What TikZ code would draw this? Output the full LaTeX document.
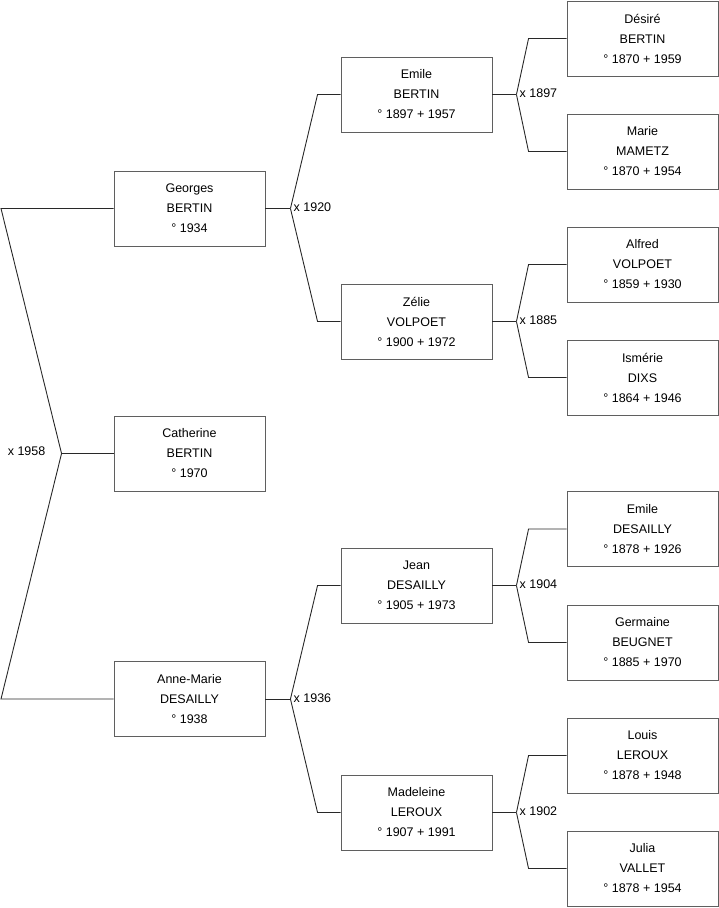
\documentclass[tikz,border=0pt]{standalone}
\usepackage{fontspec}
\setmainfont{Liberation Sans}
\usetikzlibrary{positioning,calc}
\definecolor{boxgray}{RGB}{95,95,95}
\definecolor{linkgray}{RGB}{40,40,40}

\tikzset{
  person/.style={draw=boxgray,line width=.9pt,minimum width=151pt,minimum height=75pt,
    inner sep=0pt,align=center,font=\fontsize{12.5}{20}\selectfont},
  link/.style={draw=linkgray,line width=.9pt},
  marr/.style={inner sep=1pt,font=\fontsize{12.5}{15}\selectfont}
}

\begin{document}
\begin{tikzpicture}[x=1pt,y=-1pt]
\useasboundingbox (0,0) rectangle (719,908);
% children
\node[person] (georges) at (189.5,208.5) {Georges\\BERTIN\\° 1934};
\node[person] (catherine) at (189.5,453.5) {Catherine\\BERTIN\\° 1970};
\node[person] (annemarie) at (189.5,699) {Anne-Marie\\DESAILLY\\° 1938};
% parents
\node[person] (emileb) at (416.5,94.5) {Emile\\BERTIN\\° 1897 + 1957};
\node[person] (zelie) at (416.5,321.5) {Zélie\\VOLPOET\\° 1900 + 1972};
\node[person] (jean) at (416.5,585.5) {Jean\\DESAILLY\\° 1905 + 1973};
\node[person] (madeleine) at (416.5,812.5) {Madeleine\\LEROUX\\° 1907 + 1991};
% grandparents
\node[person] (desire) at (642.5,38.5) {Désiré\\BERTIN\\° 1870 + 1959};
\node[person] (marie) at (642.5,151.5) {Marie\\MAMETZ\\° 1870 + 1954};
\node[person] (alfred) at (642.5,264.5) {Alfred\\VOLPOET\\° 1859 + 1930};
\node[person] (ismerie) at (642.5,377.5) {Ismérie\\DIXS\\° 1864 + 1946};
\node[person] (emiled) at (642.5,529) {Emile\\DESAILLY\\° 1878 + 1926};
\node[person] (germaine) at (642.5,642.5) {Germaine\\BEUGNET\\° 1885 + 1970};
\node[person] (louis) at (642.5,755.5) {Louis\\LEROUX\\° 1878 + 1948};
\node[person] (julia) at (642.5,868.5) {Julia\\VALLET\\° 1878 + 1954};

% siblings bracket
\coordinate (v-sib) at ($(catherine.west)+(-52,0)$);
\coordinate (sib-top) at (1,208.5);
\coordinate (sib-bot) at (1,699);
\draw[link] (georges.west) -- (sib-top) -- (v-sib) -- (sib-bot) -- (annemarie.west);
\draw[link] (v-sib) -- (catherine.west);
\node[marr,anchor=east] (m-sib) at ($(v-sib)+(-15,-2)$) {x 1958};

% couples
\foreach \c/\f/\m/\y/\a/\b in {georges/emileb/zelie/1920/25/23,
  annemarie/jean/madeleine/1936/25/23,
  emileb/desire/marie/1897/24/38,
  zelie/alfred/ismerie/1885/24/38,
  jean/emiled/germaine/1904/24/38,
  madeleine/louis/julia/1902/24/38}
{
  \coordinate (v-\c) at ($(\c.east)+(\a,0)$);
  \draw[link] (\c.east) -- (v-\c);
  \draw[link] (v-\c) -- ($(\f.west)+(-\b,0)$) -- (\f.west);
  \draw[link] (v-\c) -- ($(\m.west)+(-\b,0)$) -- (\m.west);
  \node[marr,anchor=west] (m-\c) at ($(v-\c)+(2,-1)$) {x \y};
}
\end{tikzpicture}
\end{document}
